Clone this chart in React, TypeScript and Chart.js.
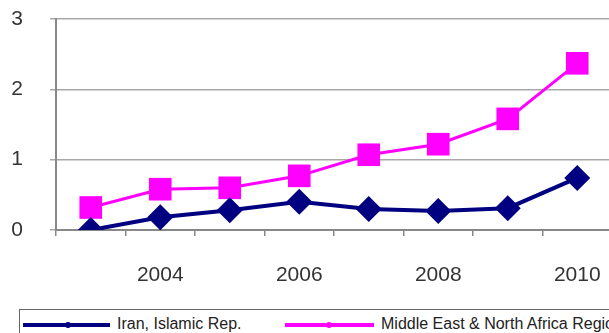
import React, { useEffect, useRef } from "react";
import { Chart, registerables } from "chart.js";

Chart.register(...registerables);

const years = ["2003", "2004", "2005", "2006", "2007", "2008", "2009", "2010"];
const iranValues = [0.0, 0.18, 0.28, 0.4, 0.3, 0.27, 0.31, 0.74];
const menaValues = [0.32, 0.58, 0.6, 0.77, 1.07, 1.22, 1.58, 2.37];
const seriesNames = ["Iran, Islamic Rep.", "Middle East & North Africa Region"];
const seriesColors = ["#000080", "#FF00FF"];

const FONT = "'Liberation Sans', Arial, sans-serif";

export default function App() {
  const canvasRef = useRef<HTMLCanvasElement | null>(null);

  useEffect(() => {
    const canvas = canvasRef.current;
    if (!canvas) return;
    const chart = new Chart(canvas, {
      type: "line",
      data: {
        labels: years,
        datasets: [
          {
            label: seriesNames[0],
            data: iranValues,
            borderColor: seriesColors[0],
            backgroundColor: seriesColors[0],
            borderWidth: 4,
            pointStyle: "rectRot",
            pointRadius: 13,
            pointBorderWidth: 0,
            tension: 0,
          },
          {
            label: seriesNames[1],
            data: menaValues,
            borderColor: seriesColors[1],
            backgroundColor: seriesColors[1],
            borderWidth: 3,
            pointStyle: "rect",
            pointRadius: 16,
            pointBorderWidth: 0,
            tension: 0,
          },
        ],
      },
      options: {
        animation: false,
        responsive: false,
        maintainAspectRatio: false,
        layout: { padding: { top: 19, right: 28, bottom: 0, left: 0 } },
        plugins: {
          legend: { display: false },
          tooltip: { enabled: false },
        },
        scales: {
          x: {
            type: "category",
            offset: true,
            afterFit: (scale: any) => {
              scale.height = 70;
            },
            grid: {
              offset: true,
              drawOnChartArea: false,
              drawTicks: true,
              tickLength: 6,
              color: "#888",
              lineWidth: 1.5,
            },
            border: { color: "#888", width: 2 },
            ticks: {
              autoSkip: false,
              maxRotation: 0,
              padding: 27,
              color: "#333",
              font: { family: FONT, size: 21 },
              callback: function (this: any, _v: any, i: number) {
                return i % 2 === 1 ? years[i] : "";
              },
            },
          },
          y: {
            min: 0,
            max: 3,
            afterFit: (scale: any) => {
              scale.width = 56;
              scale.paddingTop = 0;
              scale.paddingBottom = 0;
            },
            grid: {
              color: "#a8a8a8",
              lineWidth: 1.5,
              tickLength: 6,
            },
            border: { color: "#888", width: 2 },
            ticks: {
              stepSize: 1,
              padding: 27,
              color: "#333",
              font: { family: FONT, size: 21 },
            },
          },
        },
      },
    });
    return () => chart.destroy();
  }, []);

  const legendLine = (color: string, left: number, width: number, dot: number) => (
    <svg
      width={width}
      height={10}
      style={{ position: "absolute", left, top: 320 }}
    >
      <line x1={0} y1={5} x2={width} y2={5} stroke={color} strokeWidth={4} />
      <circle cx={dot} cy={5} r={3} fill={color} />
    </svg>
  );

  const legendText = (text: string, left: number) => (
    <span
      style={{
        position: "absolute",
        left,
        top: 315,
        fontFamily: FONT,
        fontSize: 16,
        lineHeight: "18px",
        color: "#222",
        whiteSpace: "nowrap",
      }}
    >
      {text}
    </span>
  );

  return (
    <div
      style={{
        position: "fixed",
        left: 0,
        top: 0,
        width: 609,
        height: 333,
        overflow: "hidden",
        background: "#fff",
      }}
    >
      <canvas
        ref={canvasRef}
        width={640}
        height={300}
        style={{ position: "absolute", left: 0, top: 0, width: 640, height: 300 }}
      />
      <div
        style={{
          position: "absolute",
          left: 19,
          top: 309,
          width: 640,
          height: 40,
          border: "1.5px solid #666",
          boxSizing: "border-box",
        }}
      />
      {legendLine(seriesColors[0], 23, 87, 45)}
      {legendText(seriesNames[0], 117)}
      {legendLine(seriesColors[1], 285, 89, 44)}
      {legendText(seriesNames[1], 381)}
    </div>
  );
}
